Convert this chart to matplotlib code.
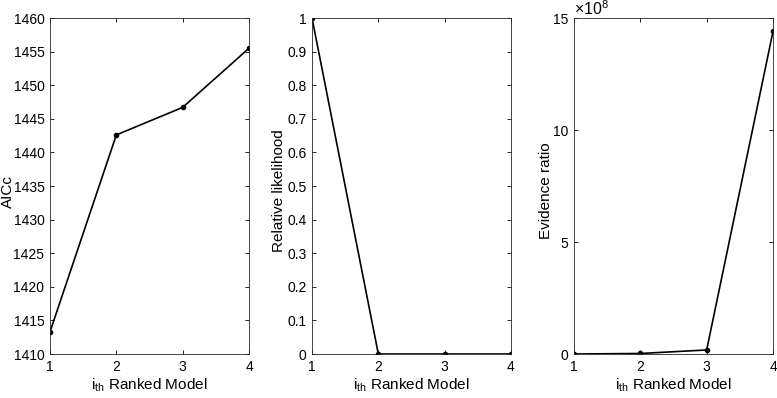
import numpy as np
import matplotlib.pyplot as plt

plt.rcParams['font.family'] = ['Liberation Sans', 'DejaVu Sans']
plt.rcParams['mathtext.fontset'] = 'custom'
plt.rcParams['mathtext.rm'] = 'Liberation Sans'
plt.rcParams['mathtext.it'] = 'Liberation Sans:italic'

# ranked models and the three criteria
rank = [1, 2, 3, 4]
aicc = [1413.3, 1442.6, 1446.7, 1455.5]
rel_likelihood = [1.0, 4.3e-7, 5.5e-8, 7.0e-10]
evidence_ratio = [1.0, 2.3e6, 1.8e7, 1.44e9]

fig = plt.figure(figsize=(7.77, 3.98), dpi=100)
W, H = 777, 398
lefts = [50, 312, 574]
label_offsets = [-42, -33, -28]   # ylabel centre, px left of the axes
width = 199
top, bottom = 18, 354

panels = [
    (aicc, 'AICc', (1410, 1460), np.arange(1410, 1461, 5)),
    (rel_likelihood, 'Relative likelihood', (0, 1), np.round(np.arange(0, 1.01, 0.1), 1)),
    (evidence_ratio, 'Evidence ratio', (0, 15e8), np.array([0, 5e8, 10e8, 15e8])),
]

for left, off, (vals, ylab, ylim, yticks) in zip(lefts, label_offsets, panels):
    ax = fig.add_axes([left / W, 1 - bottom / H, width / W, (bottom - top) / H])
    ax.plot(rank, vals, 'k-', linewidth=1.2, marker='o', markersize=3)
    ax.set_xlim(1, 4)
    ax.set_ylim(*ylim)
    ax.set_xticks(rank)
    ax.set_yticks(yticks)
    if ylab == 'Evidence ratio':
        ax.set_yticklabels(['0', '5', '10', '15'])
        ax.text(0.0, 1.0, r'$\times10^{8}$', transform=ax.transAxes,
                ha='left', va='bottom', fontsize=11.5)
    elif ylab == 'Relative likelihood':
        ax.set_yticklabels(['0'] + [f'{t:.1f}' for t in yticks[1:-1]] + ['1'])
    ax.tick_params(direction='in', top=True, right=True, labelsize=10, length=3,
                   width=0.6, pad=4)
    for s in ax.spines.values():
        s.set_linewidth(0.6)
        s.set_color('#262626')
    ax.set_ylabel(ylab, fontsize=11, va='center')
    ax.yaxis.set_label_coords(off / width, 0.485)
    ax.set_xlabel(r'i$_{\mathrm{th}}$ Ranked Model', fontsize=11, labelpad=2)

plt.savefig('out.png', dpi=100)
